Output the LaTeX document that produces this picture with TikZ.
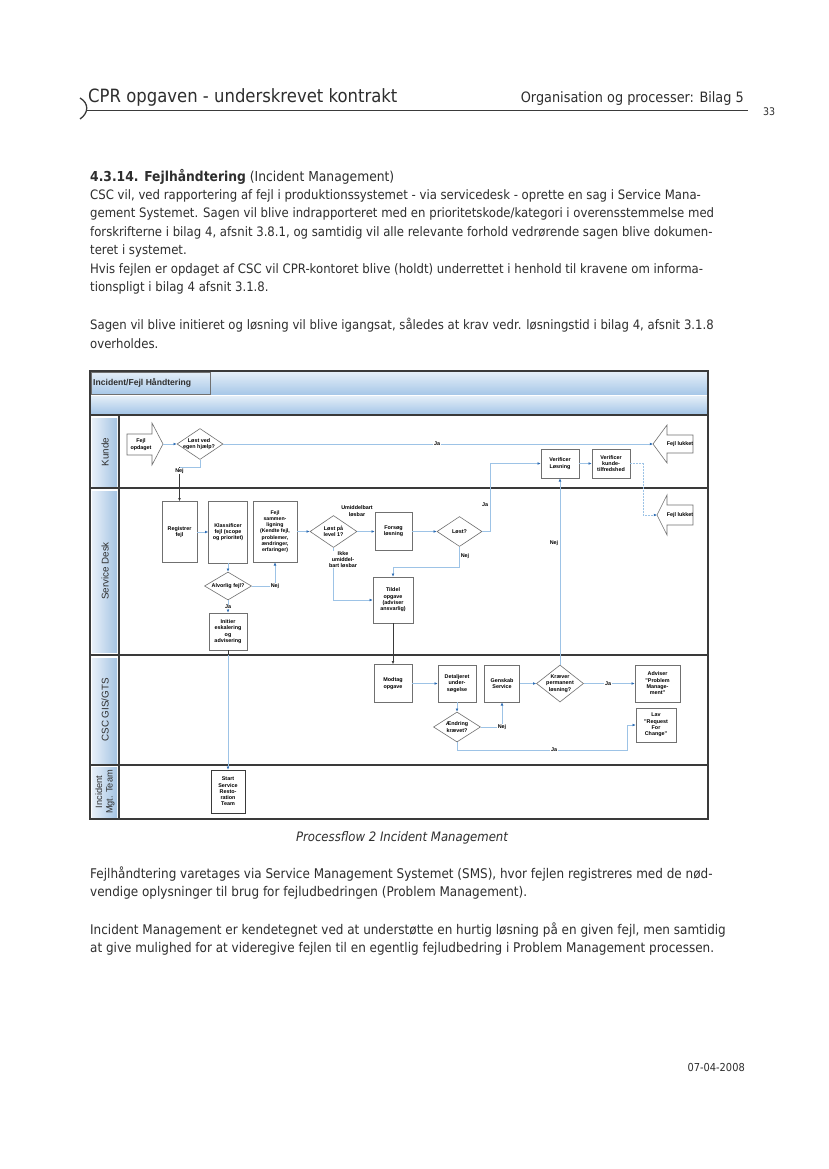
\documentclass[tikz,border=0pt]{standalone}
\usepackage{fontspec}
\setmainfont{DejaVu Sans}[FakeStretch=0.9]
\newfontfamily\dg{Liberation Sans}
\usetikzlibrary{arrows.meta,shapes.geometric}
\definecolor{lnblue}{HTML}{9DC3E6}
\definecolor{arblue}{HTML}{2E6DB4}
\definecolor{bxgray}{HTML}{707070}
\definecolor{dark}{HTML}{3A3A3A}
\definecolor{txt}{HTML}{2E2E2E}
\definecolor{bandtop}{HTML}{E4EEF8}
\definecolor{bandbot}{HTML}{A8C8E8}
\definecolor{lanel}{HTML}{E8F0F9}
\definecolor{laner}{HTML}{A5C4E3}
\tikzset{
 body/.style={anchor=west, inner sep=0pt, text=txt, font=\fontsize{13}{15}\selectfont},
 bodyb/.style={anchor=west, inner sep=0pt, text=txt, font=\fontsize{13.35}{15}\selectfont},
 dfont/.style={font=\dg\bfseries\fontsize{5.4}{6.3}\selectfont},
 pbox/.style={dfont, draw=bxgray, fill=white, line width=0.6pt, inner sep=0.5pt, align=center},
 pdia/.style={diamond, draw=bxgray, fill=white, line width=0.6pt, inner sep=0pt},
 dtxt/.style={dfont, inner sep=0pt, align=center, text=black},
 lbl/.style={dfont, fill=white, inner sep=0.6pt, align=center},
 nlbl/.style={dfont, inner sep=0.6pt, align=center},
 conn/.style={draw=lnblue, line width=0.7pt},
 arr/.style={conn, -{Latex[length=3.2pt,width=2.8pt,color=arblue]}},
 garr/.style={draw=dark, line width=0.6pt, -{Latex[length=3.2pt,width=2.8pt,color=dark]}},
 lanebox/.style={left color=lanel, right color=laner, draw=none},
 lanetxt/.style={rotate=90, font=\dg\fontsize{9.8}{10.6}\selectfont, text=txt, align=center, inner sep=0pt},
 divider/.style={draw=dark, line width=1.6pt},
 blockarr/.style={draw=bxgray, fill=white, line width=0.6pt, line join=miter},
}
\begin{document}
\begin{tikzpicture}[x=1pt,y=-1pt]
\useasboundingbox (0,0) rectangle (828,1169);
\fill[white] (0,0) rectangle (828,1169);

% ---------- page header ----------
\node[anchor=west, inner sep=0pt, text=txt, font=\fontsize{18.3}{21}\selectfont] (hdl) at (88,97) {CPR opgaven - underskrevet kontrakt};
\node[anchor=east, inner sep=0pt, text=txt, font=\fontsize{14.3}{16}\selectfont] (hdr) at (744,99) {Organisation og processer: Bilag 5};
\draw[dark, line width=0.8pt] (86,110) -- (748,110);
\draw[dark, line width=1.3pt] (80,98) .. controls (89,103) and (89,113) .. (80,119);
\node[anchor=west, inner sep=0pt, text=txt, font=\fontsize{10.5}{12}\selectfont] (pgno) at (763,112) {33};

% ---------- body text ----------
\node[body, font=\fontsize{13.7}{16}\selectfont] (head) at (90,177) {\textbf{4.3.14. Fejlhåndtering} (Incident Management)};
\node[body] (t1) at (90,195.5) {CSC vil, ved rapportering af fejl i produktionssystemet - via servicedesk - oprette en sag i Service Mana-};
\node[body] (t2) at (90,214) {gement Systemet. Sagen vil blive indrapporteret med en prioritetskode/kategori i overensstemmelse med};
\node[body] (t3) at (90,232.5) {forskrifterne i bilag 4, afsnit 3.8.1, og samtidig vil alle relevante forhold vedrørende sagen blive dokumen-};
\node[body] (t4) at (90,251) {teret i systemet.};
\node[body] (t5) at (90,269.5) {Hvis fejlen er opdaget af CSC vil CPR-kontoret blive (holdt) underrettet i henhold til kravene om informa-};
\node[body] (t6) at (90,288) {tionspligt i bilag 4 afsnit 3.1.8.};
\node[body] (t7) at (90,325.5) {Sagen vil blive initieret og løsning vil blive igangsat, således at krav vedr. løsningstid i bilag 4, afsnit 3.1.8};
\node[body] (t8) at (90,344) {overholdes.};

\node[inner sep=0pt, text=txt, font=\itshape\fontsize{13}{15}\selectfont] (cap) at (402,838) {Processflow 2 Incident Management};
\node[bodyb] (t9) at (90,874.5) {Fejlhåndtering varetages via Service Management Systemet (SMS), hvor fejlen registreres med de nød-};
\node[bodyb] (t10) at (90,893) {vendige oplysninger til brug for fejludbedringen (Problem Management).};
\node[bodyb] (t11) at (90,930.5) {Incident Management er kendetegnet ved at understøtte en hurtig løsning på en given fejl, men samtidig};
\node[bodyb] (t12) at (90,949) {at give mulighed for at videregive fejlen til en egentlig fejludbedring i Problem Management processen.};
\node[anchor=east, inner sep=0pt, text=txt, font=\fontsize{10.95}{13}\selectfont] (date) at (745,1068) {07-04-2008};

% ---------- diagram frame ----------
\shade[top color=bandtop, bottom color=bandbot] (91,372) rectangle (707,394);
\shade[top color=bandtop, bottom color=bandbot] (91,396) rectangle (707,413);
\draw[bxgray, line width=0.5pt] (91,372) rectangle (210,394);
\node[anchor=west, inner sep=0pt, font=\dg\bfseries\fontsize{8.6}{10}\selectfont, text=txt] (title) at (93,383) {Incident/Fejl Håndtering};
\draw[dark, line width=1.2pt] (90,371) rectangle (708,819);
\draw[divider] (90,415) -- (708,415);
\draw[divider] (90,488) -- (708,488);
\draw[divider] (90,655) -- (708,655);
\draw[divider] (90,765) -- (708,765);
\draw[divider] (119,415) -- (119,819);

\shade[lanebox] (92,418) rectangle (117,486);
\shade[lanebox] (92,491) rectangle (117,652);
\shade[lanebox] (92,658) rectangle (117,763);
\shade[lanebox] (92,767) rectangle (117,817);
\node[lanetxt] (lk) at (105,452) {Kunde};
\node[lanetxt] (ls) at (105,571) {Service Desk};
\node[lanetxt] (lc) at (105,710) {CSC GIS/GTS};
\node[lanetxt, font=\dg\fontsize{9.2}{10.4}\selectfont] (li) at (105,792) {Incident\\Mgt. Team};

% ---------- Kunde lane ----------
\draw[blockarr] (127,434) -- (152,434) -- (152,423) -- (163,444) -- (152,465) -- (152,455) -- (127,455) -- cycle;
\node[dtxt] (fot) at (141,444.5) {Fejl\\opdaget};
\coordinate (fotip) at (163,444);
\node[pdia, minimum width=46, minimum height=31] (d1) at (200,444) {};
\node[dtxt] (d1t) at (199,444) {Løst ved\\egen hjælp?};
\draw[blockarr] (693,435) -- (667,435) -- (667,425) -- (653,444) -- (667,463) -- (667,453) -- (693,453) -- cycle;
\node[dtxt] (fl1t) at (680,444) {Fejl lukket};
\coordinate (fl1tip) at (653,444);
\node[pbox, minimum width=38, minimum height=29] (vl) at (560,463.5) {Verificer\\Løsning};
\node[pbox, minimum width=38, minimum height=29] (vk) at (611,463.5) {Verificer\\kunde-\\tilfredshed};

% ---------- Service Desk lane ----------
\draw[blockarr] (693,505) -- (667,505) -- (667,495) -- (657,515) -- (667,535) -- (667,525) -- (693,525) -- cycle;
\node[dtxt] (fl2t) at (680,515) {Fejl lukket};
\coordinate (fl2tip) at (657,515);
\node[pbox, minimum width=35, minimum height=61] (reg) at (179.5,532) {Registrer\\fejl};
\node[pbox, minimum width=39, minimum height=62] (kls) at (228,532) {Klassificer\\fejl (scope\\og prioritet)};
\node[pbox, minimum width=44, minimum height=61, font=\dg\bfseries\fontsize{5.2}{6.2}\selectfont] (fsm) at (275,531.5) {Fejl\\sammen-\\ligning\\(Kendte fejl,\\problemer,\\ændringer,\\erfaringer)};
\node[pdia, minimum width=47, minimum height=28] (alv) at (228,586) {};
\node[dtxt] (alvt) at (228,586) {Alvorlig fejl?};
\node[pbox, minimum width=38, minimum height=37] (ini) at (228,631.5) {Initier\\eskalering\\og\\advisering};
\node[pdia, minimum width=47, minimum height=32] (lpl) at (333.5,531.5) {};
\node[dtxt] (lplt) at (333.5,531.5) {Løst på\\level 1?};
\node[pbox, minimum width=37, minimum height=38] (fl) at (393.5,531.5) {Forsøg\\løsning};
\node[pdia, minimum width=45, minimum height=30] (lst) at (459.5,531.5) {};
\node[dtxt] (lstt) at (459.5,531.5) {Løst?};
\node[pbox, minimum width=40, minimum height=46] (tld) at (393,600) {Tildel\\opgave\\(adviser\\ansvarlig)};

% ---------- CSC lane ----------
\node[pbox, minimum width=38, minimum height=38] (mod) at (393,683.5) {Modtag\\opgave};
\node[pbox, minimum width=38, minimum height=37] (det) at (457,683.5) {Detaljeret\\under-\\søgelse};
\node[pbox, minimum width=35, minimum height=37] (gen) at (502,683.5) {Genskab\\Service};
\node[pdia, minimum width=47, minimum height=37] (krv) at (560,683.5) {};
\node[dtxt] (krvt) at (560,683.5) {Kræver\\permanent\\løsning?};
\node[pbox, minimum width=45, minimum height=37] (adv) at (657.5,683.5) {Adviser\\"Problem\\Manage-\\ment"};
\node[pdia, minimum width=47, minimum height=30] (aen) at (457,727) {};
\node[dtxt] (aent) at (457,727) {Ændring\\krævet?};
\node[pbox, minimum width=40, minimum height=34] (lav) at (656,725) {Lav\\"Request\\For\\Change"};

% ---------- Incident Mgt lane ----------
\node[pbox, draw=dark, minimum width=34, minimum height=43] (stt) at (228,791.5) {Start\\Service\\Resto-\\ration\\Team};

% ---------- connectors ----------
\draw[arr] (fotip) -- (d1.west);
\draw[arr] (d1.east) -- (fl1tip);
\node[lbl] (ja1) at (437,443.5) {Ja};
\coordinate (nejc) at (179.5,467);
\draw[conn] (d1.south) |- (nejc);
\draw[garr] (nejc) -- (reg.north);
\node[lbl] (nej1) at (179.5,471) {Nej};

\draw[arr] (vl.east) -- (vk.west);
\draw[arr] (lst.east) -- ++(8.5,0) |- (vl.west);
\node[nlbl, anchor=east] (ja2) at (489,505) {Ja};
\draw[arr, dash pattern=on 2pt off 1pt] (vk.east) -- ++(13,0) |- (fl2tip);

\draw[arr] (reg.east |- kls.west) -- (kls.west);
\draw[arr] (kls.south) -- (alv.north);
\coordinate (alvn) at (275,586);
\draw[conn] (alv.east) -- (alvn);
\draw[arr] (alvn) -- (fsm.south);
\node[lbl] (nej2) at (alvn) {Nej};
\draw[arr] (alv.south) -- (ini.north);
\node[lbl] (ja3) at (228,607) {Ja};
\draw[arr] (ini.south) -- (stt.north);
\draw[draw=dark, line width=0.6pt] (ini.south) -- (228,655);

\draw[arr] (fsm.east) -- (lpl.west);
\draw[arr] (lpl.east) -- (fl.west);
\node[nlbl] (umb) at (357,511) {Umiddelbart\\løsbar};
\draw[arr] (fl.east) -- (lst.west);
\draw[arr] (lpl.south) |- (tld.west);
\node[lbl] (ikke) at (343,559.5) {Ikke\\umiddel-\\bart løsbar};
\draw[arr] (lst.south) -- ++(0,21) -| (tld.north);
\node[nlbl, anchor=west] (nej3) at (460,556) {Nej};
\draw[garr] (tld.south) -- (mod.north);

\draw[arr] (krv.north) -- (vl.south);
\node[nlbl, anchor=east] (nej4) at (559,543) {Nej};

\draw[arr] (mod.east) -- (det.west);
\draw[arr] (gen.east) -- (krv.west);
\draw[arr] (krv.east) -- (adv.west);
\node[lbl] (ja4) at (608,683.5) {Ja};
\draw[arr] (det.south) -- (aen.north);
\coordinate (aenn) at (502,727);
\draw[conn] (aen.east) -- (aenn);
\draw[arr] (aenn) -- (gen.south);
\node[lbl] (nej5) at (aenn) {Nej};
\coordinate (aenj) at (627,750);
\draw[arr] (aen.south) |- (aenj) |- (lav.west);
\node[lbl] (ja5) at (554,750) {Ja};
\end{tikzpicture}
\end{document}
